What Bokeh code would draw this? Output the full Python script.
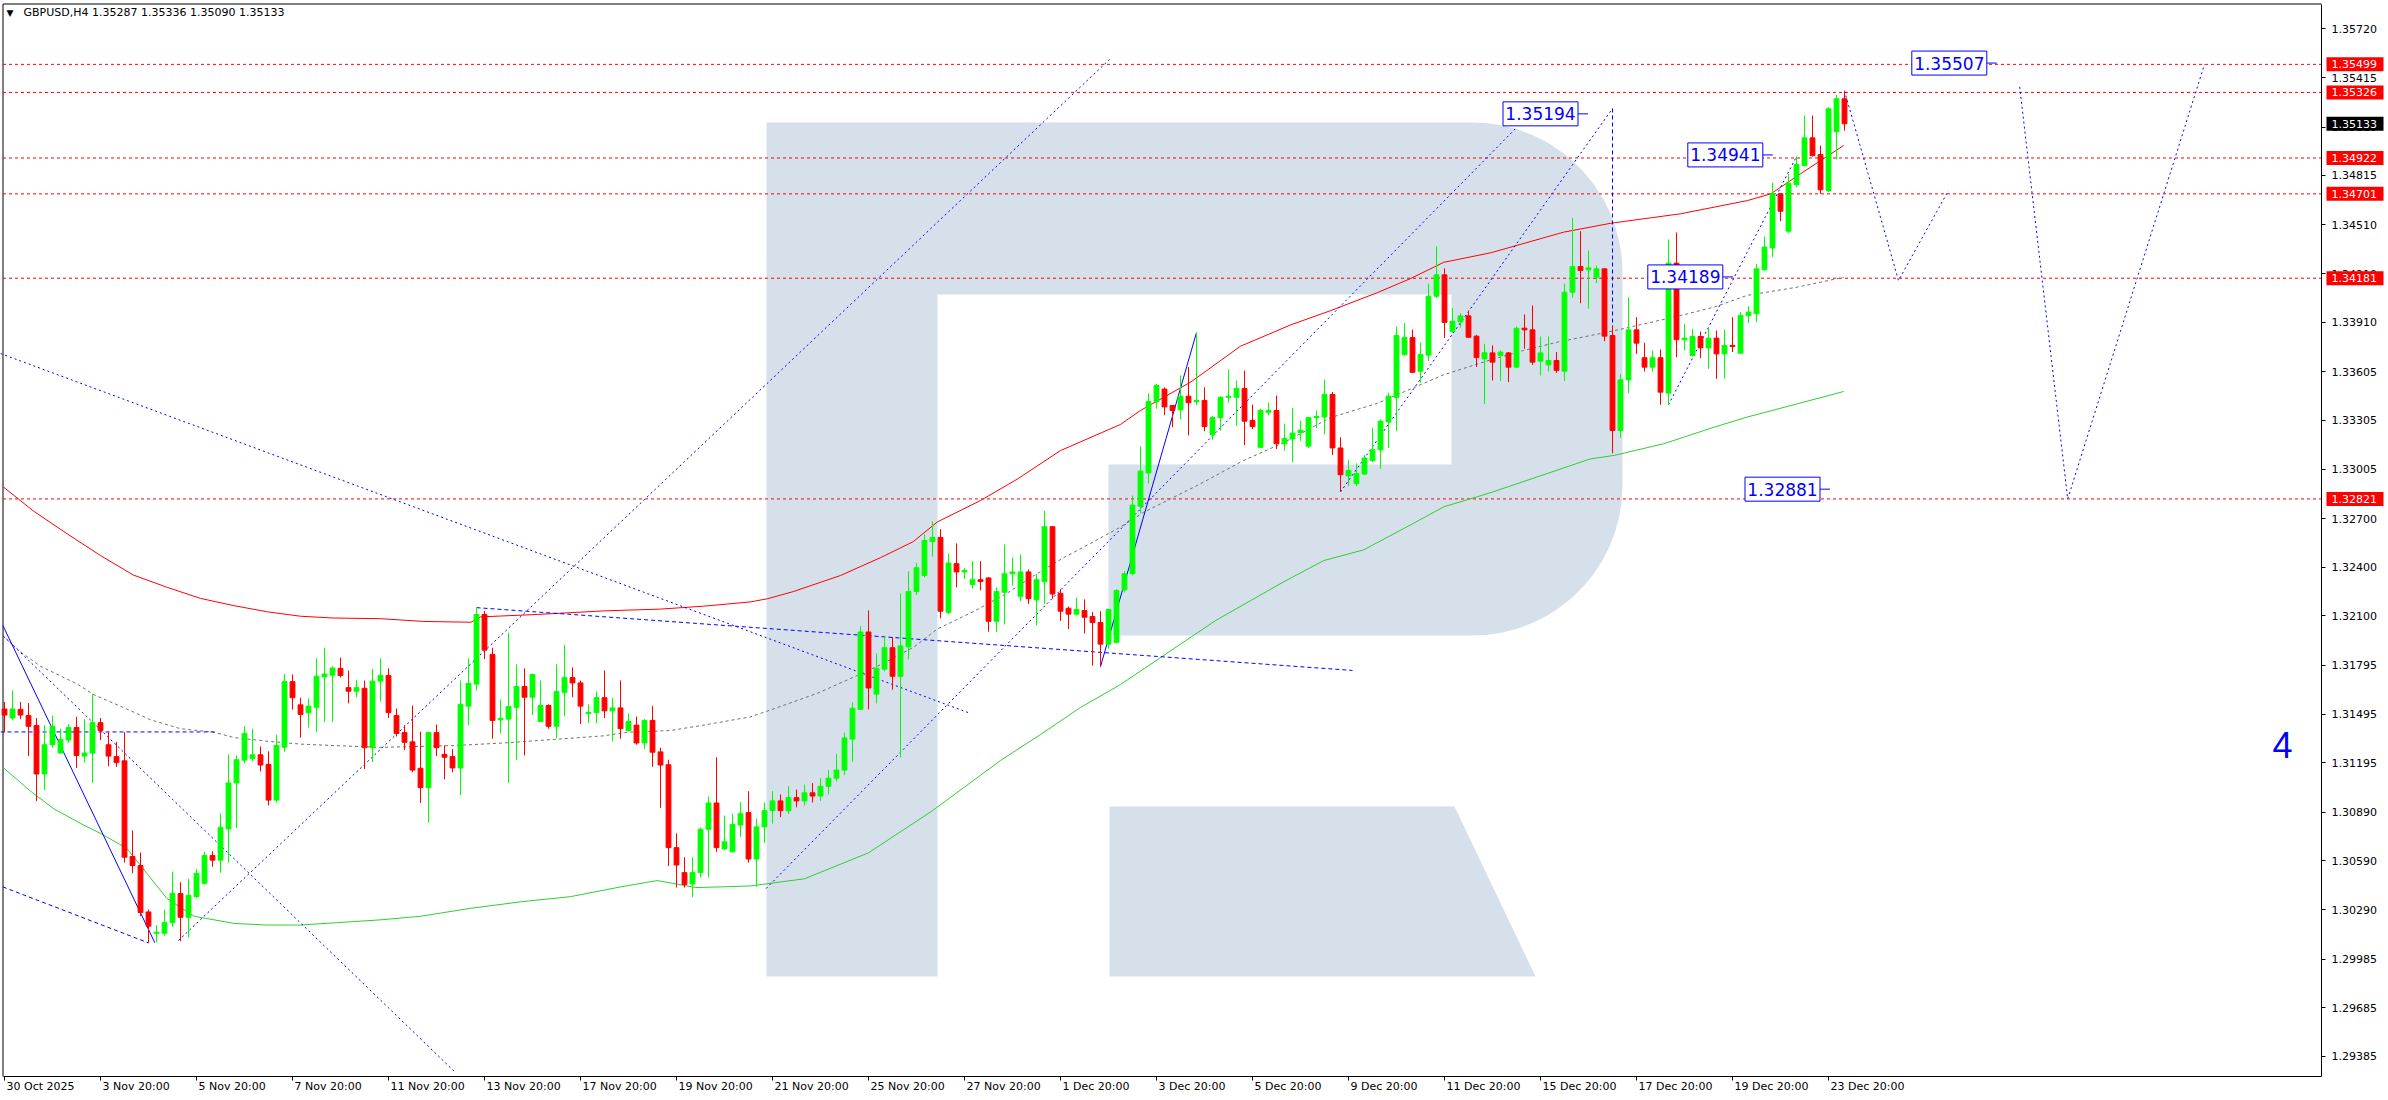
import math
from bokeh.plotting import figure
from bokeh.models import Range1d, LinearAxis, FixedTicker, PrintfTickFormatter
from bokeh.embed import file_html
from bokeh.resources import INLINE
from bokeh.core.properties import value

# ---------------- data (GBPUSD H4, bar index 0 = 30 Oct 2025 20:00) ----------------
opens = [1.31526,1.31471,1.31524,1.31486,1.31425,1.31126,1.31306,1.31255,1.31335,1.31412,
 1.31236,1.31255,1.31442,1.31306,1.31233,1.31207,1.30617,1.30562,1.30276,1.30144,
 1.30144,1.30210,1.30389,1.30243,1.30371,1.30452,1.30624,1.30595,1.30787,1.31071,
 1.31211,1.31222,1.31244,1.31185,1.30965,1.31291,1.31695,1.31552,1.31504,1.31537,
 1.31724,1.31735,1.31777,1.31658,1.31636,1.31654,1.31288,1.31698,1.31733,1.31486,
 1.31381,1.31324,1.31161,1.31042,1.31381,1.31247,1.31233,1.31163,1.31544,1.31680,
 1.32109,1.31863,1.31460,1.31464,1.31537,1.31665,1.31599,1.31449,1.31548,1.31420,
 1.31629,1.31720,1.31687,1.31500,1.31504,1.31596,1.31515,1.31533,1.31394,1.31427,
 1.31317,1.31456,1.31262,1.31183,1.30672,1.30518,1.30448,1.30518,1.30785,1.30947,
 1.30664,1.30646,1.30811,1.30888,1.30602,1.30800,1.30900,1.30960,1.30900,1.30980,
 1.30960,1.31010,1.30990,1.31050,1.31100,1.31150,1.31341,1.31524,1.32001,1.31618,
 1.31772,1.31904,1.31728,1.31909,1.32250,1.32349,1.32558,1.32584,1.32122,1.32422,
 1.32371,1.32294,1.32323,1.32334,1.32067,1.32246,1.32360,1.32221,1.32371,1.32199,
 1.32312,1.32650,1.32239,1.32147,1.32111,1.32133,1.32096,1.32059,1.31926,1.31937,
 1.32261,1.32360,1.32776,1.32981,1.33421,1.33498,1.33397,1.33370,1.33454,1.33421,
 1.33428,1.33216,1.33322,1.33447,1.33447,1.33502,1.33304,1.33139,1.33355,1.33366,
 1.33161,1.33190,1.33230,1.33146,1.33322,1.33326,1.33465,1.33135,1.32963,1.32915,
 1.32974,1.33058,1.33124,1.33296,1.33447,1.33711,1.33815,1.33608,1.33707,1.34070,
 1.34202,1.33854,1.33912,1.33949,1.33824,1.33684,1.33721,1.33705,1.33721,1.33633,
 1.33873,1.33863,1.33670,1.33647,1.33674,1.33608,1.34095,1.34253,1.34233,1.34188,
 1.34239,1.33828,1.33243,1.33555,1.33863,1.33691,1.33633,1.33691,1.33473,1.34274,
 1.33802,1.33705,1.33822,1.33752,1.33812,1.33715,1.33767,1.33719,1.33951,1.33962,
 1.34233,1.34368,1.34701,1.34471,1.34759,1.34876,1.35046,1.34943,1.34722,1.35085,
 1.35287]
highs = [1.31570,1.31640,1.31570,1.31563,1.31471,1.31427,1.31486,1.31405,1.31434,1.31478,
 1.31464,1.31618,1.31471,1.31383,1.31324,1.31383,1.30778,1.30642,1.30290,1.30195,
 1.30290,1.30525,1.30459,1.30481,1.30540,1.30646,1.30650,1.30884,1.31247,1.31240,
 1.31420,1.31405,1.31295,1.31266,1.31368,1.31742,1.31739,1.31596,1.31592,1.31838,
 1.31904,1.31790,1.31843,1.31764,1.31706,1.31702,1.31775,1.31838,1.31777,1.31530,
 1.31427,1.31548,1.31387,1.31387,1.31431,1.31302,1.31280,1.31702,1.31838,1.32151,
 1.32131,1.31904,1.31585,1.31997,1.31801,1.31777,1.31739,1.31702,1.31555,1.31801,
 1.31922,1.31783,1.31702,1.31555,1.31634,1.31764,1.31596,1.31702,1.31500,1.31480,
 1.31464,1.31544,1.31288,1.31214,1.30760,1.30613,1.30613,1.30796,1.30987,1.31229,
 1.30870,1.30881,1.30954,1.31020,1.30850,1.30950,1.31020,1.31000,1.31050,1.31030,
 1.31060,1.31070,1.31100,1.31150,1.31250,1.31381,1.31568,1.32037,1.32134,1.31869,
 1.31970,1.31970,1.32239,1.32375,1.32426,1.32602,1.32683,1.32635,1.32485,1.32547,
 1.32397,1.32437,1.32437,1.32338,1.32276,1.32540,1.32459,1.32477,1.32386,1.32360,
 1.32749,1.32650,1.32265,1.32158,1.32213,1.32202,1.32125,1.32129,1.32140,1.32265,
 1.32376,1.32842,1.33146,1.33472,1.33531,1.33509,1.33397,1.33582,1.33634,1.33846,
 1.33509,1.33333,1.33454,1.33619,1.33551,1.33612,1.33403,1.33377,1.33414,1.33458,
 1.33285,1.33381,1.33304,1.33322,1.33366,1.33557,1.33480,1.33201,1.33062,1.33040,
 1.33091,1.33260,1.33311,1.33476,1.33883,1.33905,1.33865,1.33784,1.34147,1.34378,
 1.34242,1.33998,1.33965,1.33982,1.33832,1.33777,1.33767,1.33736,1.33726,1.33884,
 1.33958,1.34013,1.33822,1.33822,1.33726,1.34147,1.34553,1.34471,1.34352,1.34260,
 1.34239,1.33890,1.33592,1.34064,1.33941,1.33783,1.33736,1.33742,1.34420,1.34463,
 1.33900,1.33869,1.33853,1.33875,1.33859,1.33865,1.33941,1.33972,1.34009,1.34270,
 1.34438,1.34769,1.34701,1.34824,1.34931,1.35184,1.35184,1.34999,1.35235,1.35311,
 1.35336]
lows = [1.31383,1.31456,1.31464,1.31236,1.30958,1.31027,1.31288,1.31251,1.31317,1.31163,
 1.31196,1.31071,1.31335,1.31174,1.31170,1.30580,1.30514,1.30250,1.30085,1.30090,
 1.30129,1.30184,1.30095,1.30118,1.30360,1.30444,1.30554,1.30518,1.30580,1.30793,
 1.31192,1.31205,1.31141,1.30932,1.30950,1.31262,1.31522,1.31350,1.31412,1.31383,
 1.31445,1.31445,1.31720,1.31561,1.31599,1.31156,1.31200,1.31574,1.31471,1.31357,
 1.31273,1.31137,1.30947,1.30826,1.31236,1.31093,1.31137,1.30994,1.31427,1.31640,
 1.31834,1.31343,1.31376,1.31071,1.31211,1.31240,1.31489,1.31449,1.31405,1.31346,
 1.31482,1.31599,1.31434,1.31438,1.31438,1.31471,1.31328,1.31343,1.31390,1.31306,
 1.31280,1.31170,1.30917,1.30558,1.30426,1.30426,1.30367,1.30488,1.30488,1.30646,
 1.30657,1.30646,1.30738,1.30580,1.30430,1.30700,1.30820,1.30860,1.30880,1.30920,
 1.30930,1.30950,1.30960,1.31000,1.31080,1.31120,1.31200,1.31524,1.31524,1.31561,
 1.31759,1.31645,1.31227,1.31832,1.32228,1.32338,1.32466,1.32085,1.32111,1.32276,
 1.32327,1.32268,1.32257,1.32003,1.32001,1.32047,1.32287,1.32191,1.32173,1.32041,
 1.32173,1.32206,1.32070,1.32019,1.32103,1.31992,1.31794,1.31788,1.31898,1.31937,
 1.32244,1.32349,1.32732,1.32915,1.33377,1.33337,1.33263,1.33311,1.33212,1.33399,
 1.33238,1.33186,1.33241,1.33414,1.33271,1.33153,1.33252,1.33135,1.33337,1.33128,
 1.33117,1.33047,1.33179,1.33135,1.33256,1.33219,1.33091,1.32864,1.32899,1.32899,
 1.32970,1.33047,1.33007,1.33135,1.33238,1.33703,1.33601,1.33538,1.33670,1.34059,
 1.33813,1.33846,1.33876,1.33817,1.33634,1.33405,1.33551,1.33547,1.33541,1.33629,
 1.33746,1.33647,1.33582,1.33606,1.33598,1.33547,1.34060,1.34027,1.33993,1.34151,
 1.33793,1.33103,1.33198,1.33473,1.33715,1.33606,1.33606,1.33401,1.33401,1.33695,
 1.33736,1.33699,1.33689,1.33623,1.33561,1.33561,1.33726,1.33715,1.33904,1.33910,
 1.34229,1.34311,1.34533,1.34459,1.34742,1.34870,1.34931,1.34701,1.34711,1.34913,
 1.35090]
closes = [1.31489,1.31526,1.31489,1.31420,1.31126,1.31306,1.31420,1.31339,1.31412,1.31240,
 1.31255,1.31442,1.31394,1.31236,1.31196,1.30613,1.30562,1.30272,1.30188,1.30151,
 1.30210,1.30389,1.30243,1.30378,1.30514,1.30624,1.30595,1.30796,1.31071,1.31214,
 1.31376,1.31244,1.31181,1.30965,1.31302,1.31695,1.31596,1.31493,1.31544,1.31728,
 1.31742,1.31779,1.31733,1.31636,1.31658,1.31288,1.31698,1.31733,1.31504,1.31376,
 1.31321,1.31150,1.31042,1.31381,1.31288,1.31229,1.31163,1.31555,1.31684,1.32109,
 1.31889,1.31456,1.31469,1.31541,1.31665,1.31599,1.31739,1.31548,1.31420,1.31634,
 1.31720,1.31687,1.31544,1.31504,1.31596,1.31515,1.31533,1.31405,1.31449,1.31317,
 1.31456,1.31260,1.31181,1.30672,1.30565,1.30444,1.30518,1.30785,1.30947,1.30672,
 1.30708,1.30815,1.30881,1.30602,1.30800,1.30900,1.30960,1.30900,1.30980,1.30960,
 1.31010,1.30990,1.31050,1.31100,1.31150,1.31348,1.31531,1.32001,1.31656,1.31777,
 1.31904,1.31728,1.31915,1.32250,1.32397,1.32565,1.32584,1.32129,1.32426,1.32371,
 1.32380,1.32323,1.32312,1.32067,1.32250,1.32360,1.32371,1.32371,1.32206,1.32323,
 1.32650,1.32235,1.32129,1.32111,1.32140,1.32092,1.32059,1.31926,1.32140,1.32257,
 1.32360,1.32783,1.32992,1.33421,1.33520,1.33388,1.33366,1.33454,1.33414,1.33428,
 1.33267,1.33322,1.33447,1.33454,1.33502,1.33300,1.33267,1.33366,1.33366,1.33161,
 1.33194,1.33227,1.33245,1.33322,1.33329,1.33465,1.33135,1.32970,1.32996,1.32977,
 1.33073,1.33124,1.33300,1.33454,1.33828,1.33815,1.33601,1.33711,1.34070,1.34202,
 1.33909,1.33916,1.33949,1.33817,1.33692,1.33722,1.33664,1.33726,1.33633,1.33873,
 1.33863,1.33664,1.33721,1.33674,1.33613,1.34095,1.34253,1.34229,1.34245,1.34239,
 1.33824,1.33243,1.33555,1.33863,1.33781,1.33633,1.33691,1.33479,1.34274,1.33802,
 1.33812,1.33822,1.33752,1.33812,1.33715,1.33767,1.33760,1.33951,1.33972,1.34239,
 1.34373,1.34701,1.34594,1.34767,1.34882,1.35046,1.34937,1.34726,1.35225,1.35287,
 1.35133]

date_ticks = [0, 12, 24, 36, 48, 60, 72, 84, 96, 108, 120, 132, 144, 156, 168, 180, 192, 204, 216, 228]
date_labels = ["30 Oct 2025", "3 Nov 20:00", "5 Nov 20:00", "7 Nov 20:00", "11 Nov 20:00",
               "13 Nov 20:00", "17 Nov 20:00", "19 Nov 20:00", "21 Nov 20:00", "25 Nov 20:00",
               "27 Nov 20:00", "1 Dec 20:00", "3 Dec 20:00", "5 Dec 20:00", "9 Dec 20:00",
               "11 Dec 20:00", "15 Dec 20:00", "17 Dec 20:00", "19 Dec 20:00", "23 Dec 20:00"]
price_ticks = [1.35720, 1.35415, 1.35110, 1.34815, 1.34510, 1.34210, 1.33910, 1.33605, 1.33305,
               1.33005, 1.32700, 1.32400, 1.32100, 1.31795, 1.31495, 1.31195, 1.30890, 1.30590,
               1.30290, 1.29985, 1.29685, 1.29385]
level_prices = [1.35499, 1.35326, 1.34922, 1.34701, 1.34181, 1.32821]
last_price = 1.35133
header_text = "GBPUSD,H4  1.35287 1.35336 1.35090 1.35133"

# moving averages (bar, price)
ma_red_bar = [-0.2, 3.6, 7.9, 12, 16.1, 20.4, 24.5, 28.6, 32.9, 37, 41.1, 47, 52.4, 58.3, 59.5, 66.6,
              74.9, 82, 87.4, 93.2, 95.4, 98.6, 104.5, 109.5, 113.6, 116.6, 122, 126.6, 132, 139.5,
              142, 148.3, 154.5, 160.8, 165.8, 171.6, 175.8, 179.9, 185.8, 194.9, 200.8, 209.5,
              217.9, 220.8, 224.5, 229.9]
ma_red_val = [1.32897, 1.32747, 1.32604, 1.32472, 1.32352, 1.32275, 1.32208, 1.32164, 1.32125,
              1.32098, 1.32087, 1.32083, 1.32066, 1.32061, 1.32094, 1.32109, 1.32131, 1.32142,
              1.32160, 1.32186, 1.32206, 1.32250, 1.32349, 1.32459, 1.32558, 1.32679, 1.32811,
              1.32943, 1.33119, 1.33280, 1.33366, 1.33542, 1.33762, 1.33894, 1.33982, 1.34092,
              1.34180, 1.34279, 1.34338, 1.34465, 1.34520, 1.34578, 1.34660, 1.34701, 1.34825,
              1.34999]
ma_green_bar = [-0.2, 3.25, 6.2, 9.9, 12, 15.3, 17.8, 20.3, 23.7, 28.7, 32.8, 37, 47, 52, 58.25,
                64.5, 70.75, 77, 81.6, 84.1, 86.4, 89.5, 93.25, 100, 108, 116, 124.5, 129.5,
                134.5, 139.5, 151.4, 159.9, 164.9, 169.9, 175.8, 179.9, 185.8, 198.25, 201.2,
                207.4, 213.7, 217.8, 224.1, 229.9]
ma_green_val = [1.31167, 1.31020, 1.30910, 1.30811, 1.30760, 1.30667, 1.30513, 1.30359, 1.30249,
                1.30205, 1.30195, 1.30195, 1.30227, 1.30249, 1.30298, 1.30338, 1.30370, 1.30430,
                1.30469, 1.30447, 1.30426, 1.30430, 1.30436, 1.30480, 1.30640, 1.30900, 1.31209,
                1.31369, 1.31536, 1.31677, 1.32072, 1.32310, 1.32441, 1.32507, 1.32662, 1.32772,
                1.32860, 1.33068, 1.33089, 1.33161, 1.33263, 1.33325, 1.33407, 1.33483]
ma_gray_bar = [-0.2, 2, 4.5, 9.1, 11.2, 15.3, 18.25, 22, 26.2, 28.7, 32.8, 37, 41.2, 47, 56.2, 62.4,
               68.7, 74.9, 77.8, 83.25, 87.4, 93.25, 96.6, 101.6, 106.6, 109.5, 113.7, 116.6,
               121.2, 125.3, 128.7, 132.4, 135.75, 139.5, 142.4, 149.1, 154.9, 159.9, 165.75,
               171.6, 175.75, 179.9, 185.75, 189.9, 194.1, 200.3, 204.1, 209.5, 213.7, 217.8,
               224.1, 229.9]
ma_gray_val = [1.31977, 1.31878, 1.31790, 1.31680, 1.31614, 1.31526, 1.31460, 1.31405, 1.31383,
               1.31350, 1.31328, 1.31310, 1.31301, 1.31290, 1.31301, 1.31317, 1.31339, 1.31361,
               1.31383, 1.31394, 1.31427, 1.31478, 1.31535, 1.31623, 1.31733, 1.31799, 1.31909,
               1.32019, 1.32129, 1.32239, 1.32349, 1.32459, 1.32547, 1.32648, 1.32739, 1.32904,
               1.33058, 1.33168, 1.33322, 1.33410, 1.33498, 1.33586, 1.33678, 1.33736, 1.33787,
               1.33848, 1.33890, 1.33951, 1.34003, 1.34075, 1.34126, 1.34187]

# analysis lines: (bars, prices)
dotted_lines = [
    ([-0.5, 120.75], [1.33717, 1.31499]),
    ([-0.2, 56.25], [1.31979, 1.29292]),
    ([21.75, 138.25], [1.30100, 1.35535]),
    ([95.2, 188.9], [1.30420, 1.35104]),
    ([167, 201], [1.32864, 1.35227]),
    ([208, 224], [1.33401, 1.34931]),
]
dashed_lines = [
    ([59, 168.5], [1.32151, 1.31764]),
    ([-0.5, 26.6], [1.31385, 1.31385]),
    ([-0.2, 18.0], [1.30430, 1.30085]),
    ([201, 201], [1.35227, 1.33103]),
]
solid_lines = [
    ([-0.2, 18.8], [1.32041, 1.30085]),
    ([137, 149], [1.31788, 1.33846]),
]
forecast_a_bar = [230, 236.75, 243]
forecast_a_val = [1.35336, 1.34167, 1.34722]
forecast_b_bar = [251.9, 257.9, 275]
forecast_b_val = [1.35360, 1.32821, 1.35499]

box_texts = ["1.35194", "1.34941", "1.34189", "1.35507", "1.32881"]
box_bars = [192.0, 215.1, 210.1, 243.1, 222.25]
box_vals = [1.35194, 1.34941, 1.34189, 1.35507, 1.32881]

# ---------------- layout / scales (frame covers the whole canvas) ----------------
W, H = 2388, 1100
PX_PER_BAR = 8.0
PX_PER_PRICE = 16227.0
REF_PRICE, REF_Y = 1.35720, 28.0


def bar_at(px):
    return (px - 4) / PX_PER_BAR


def price_at(py):
    return REF_PRICE - (py - REF_Y) / PX_PER_PRICE


X0, X1 = bar_at(0), bar_at(W)
P_TOP, P_BOT = price_at(0), price_at(H)
AXIS_X = bar_at(2321)      # right price axis line
AXIS_Y = price_at(1076)    # bottom time axis line
LEFT_X = bar_at(2.5)
TOP_Y = price_at(3.5)

FONT = "DejaVu Sans"
BULL, BEAR = "#00FF00", "#FF0000"
BLUE = "#0000FF"

p = figure(width=W, height=H, x_range=Range1d(X0, X1), y_range=Range1d(P_BOT, P_TOP),
           output_backend="svg", toolbar_location=None, x_axis_type=None, y_axis_type=None,
           min_border=0, min_border_left=0, min_border_right=0, min_border_top=0,
           min_border_bottom=0)
p.background_fill_color = "white"
p.border_fill_color = "white"
p.outline_line_color = None

# ---- watermark logo ----
outer = [(766, 122), (1472, 122)]
for k in range(1, 16):
    a = -math.pi / 2 + k * (math.pi / 2) / 15
    outer.append((1472 + 150 * math.cos(a), 272 + 150 * math.sin(a)))
outer.append((1622, 485))
for k in range(1, 16):
    a = k * (math.pi / 2) / 15
    outer.append((1472 + 150 * math.cos(a), 485 + 150 * math.sin(a)))
outer += [(1108, 635), (1108, 464), (1451, 464), (1451, 294), (937, 294), (937, 976), (766, 976)]
leg = [(1109, 806), (1454, 806), (1535, 976), (1109, 976)]
for poly in (outer, leg):
    p.patch([bar_at(x) for x, _ in poly], [price_at(y) for _, y in poly],
            fill_color="#D6E0EB", line_color=None)

# ---- chart frame (top and left edges) ----
p.segment(x0=[LEFT_X, LEFT_X], y0=[TOP_Y, TOP_Y], x1=[AXIS_X, LEFT_X], y1=[TOP_Y, AXIS_Y],
          line_color="black", line_width=1)

# ---- horizontal levels ----
p.segment(x0=[LEFT_X] * len(level_prices), y0=level_prices, x1=[AXIS_X] * len(level_prices),
          y1=level_prices, line_color="#FF0000", line_width=1, line_dash="3 3")

# ---- moving averages ----
p.line(ma_red_bar, ma_red_val, line_color="#FF0000", line_width=1)
p.line(ma_green_bar, ma_green_val, line_color="#32CD32", line_width=1)
p.line(ma_gray_bar, ma_gray_val, line_color="#707070", line_width=1, line_dash="3 3")

# ---- analysis lines ----
for xs_, ys_ in dotted_lines:
    p.line(xs_, ys_, line_color=BLUE, line_width=1, line_dash="2 3")
for xs_, ys_ in dashed_lines:
    p.line(xs_, ys_, line_color=BLUE, line_width=1, line_dash="4 3")
for xs_, ys_ in solid_lines:
    p.line(xs_, ys_, line_color=BLUE, line_width=1)
p.line(forecast_a_bar, forecast_a_val, line_color=BLUE, line_width=1, line_dash="2 3")
p.line(forecast_b_bar, forecast_b_val, line_color=BLUE, line_width=1, line_dash="2 3")

# ---- candles ----
n = len(opens)
xs = list(range(n))
min_h = 1.0 / PX_PER_PRICE
tops, bots, cols = [], [], []
for o, c in zip(opens, closes):
    t, b = max(o, c), min(o, c)
    if t - b < min_h:
        m = (t + b) / 2
        t, b = m + min_h / 2, m - min_h / 2
    tops.append(t)
    bots.append(b)
    cols.append(BULL if c >= o else BEAR)
p.segment(x0=xs, y0=lows, x1=xs, y1=highs, line_color=cols, line_width=1)
p.vbar(x=xs, width=0.6, top=tops, bottom=bots, fill_color=cols, line_color=cols, line_width=1)

# ---- blue value boxes ----
p.rect(x=box_bars, y=box_vals, width=75, height=24, width_units="screen", height_units="screen",
       fill_color="white", line_color=BLUE, line_width=1)
p.text(x=box_bars, y=box_vals, text=box_texts, text_color=BLUE, text_font=value(FONT),
       text_font_size="17px", text_align="center", text_baseline="middle")
seg_x0 = [b + 37.5 / PX_PER_BAR for b in box_bars]
seg_x1 = [b + 47.5 / PX_PER_BAR for b in box_bars]
p.segment(x0=seg_x0, y0=box_vals, x1=seg_x1, y1=box_vals, line_color=BLUE, line_width=1)

# ---- axes (drawn inside the canvas at fixed positions) ----
yax = LinearAxis(ticker=FixedTicker(ticks=price_ticks), formatter=PrintfTickFormatter(format="%.5f"),
                 fixed_location=AXIS_X, bounds=(AXIS_Y, TOP_Y),
                 major_tick_out=4, major_tick_in=0, minor_tick_line_color=None,
                 major_label_standoff=6, major_label_text_font=FONT,
                 major_label_text_font_size="11px", major_label_text_color="black",
                 axis_line_color="black")
p.add_layout(yax, "right")
xax = LinearAxis(ticker=FixedTicker(ticks=date_ticks), fixed_location=AXIS_Y, bounds=(LEFT_X, AXIS_X),
                 major_label_overrides={float(t): "" for t in date_ticks},
                 major_tick_out=4, major_tick_in=0, minor_tick_line_color=None,
                 major_label_standoff=0, axis_line_color="black")
p.add_layout(xax, "below")

# time labels start right of their tick, as in the terminal
p.text(x=date_ticks, y=[price_at(1086)] * len(date_ticks), text=date_labels, x_offset=2,
       text_align="left", text_baseline="middle", text_font=value(FONT),
       text_font_size="11px", text_color="black")

# price tags on the axis
tag_prices = level_prices + [last_price]
tag_colors = ["#FF0000"] * len(level_prices) + ["black"]
p.rect(x=[bar_at(2354.5)] * len(tag_prices), y=tag_prices, width=57, height=14,
       width_units="screen", height_units="screen", fill_color=tag_colors, line_color=None,
       level="overlay")
p.text(x=[bar_at(2331)] * len(tag_prices), y=tag_prices, text=["%.5f" % v for v in tag_prices],
       text_color="white", text_font=value(FONT), text_font_size="11px", text_align="left",
       text_baseline="middle", level="overlay")

# ---- header & misc text ----
p.text(x=[bar_at(6)], y=[price_at(12)], text=["\u25bc"], text_align="left", text_baseline="middle",
       text_font=value(FONT), text_font_size="9px", text_color="black")
p.text(x=[bar_at(23)], y=[price_at(12)], text=[header_text], text_align="left",
       text_baseline="middle", text_font=value(FONT), text_font_size="11px", text_color="black")
p.text(x=[bar_at(2282)], y=[price_at(744)], text=["4"], text_align="center", text_baseline="middle",
       text_font=value("Liberation Sans"), text_font_size="36px", text_color=BLUE)

open("out.html", "w").write(file_html(p, INLINE))
